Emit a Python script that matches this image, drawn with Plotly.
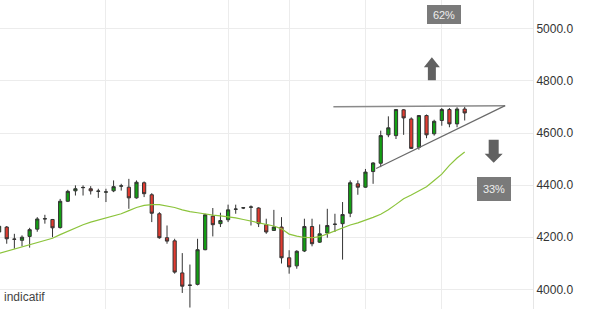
import plotly.graph_objects as go

# session index (trading days)
sessions = list(range(62))

opens = [4220, 4239, 4193, 4188, 4203, 4231, 4270, 4268, 4237, 4338,
         4378, 4390, 4386, 4376, 4373, 4378, 4396, 4392, 4351, 4409,
         4363, 4290, 4198, 4186, 4063, 4015, 4019, 4152, 4281, 4252,
         4267, 4307, 4312, 4315, 4312, 4248, 4226, 4239, 4121, 4090,
         4147, 4241, 4181, 4216, 4249, 4252, 4292, 4405, 4392, 4452,
         4484, 4593, 4590, 4689, 4654, 4545, 4667, 4597, 4648, 4690,
         4635, 4692]
highs = [4246, 4243, 4213, 4207, 4236, 4277, 4286, 4270, 4347, 4382,
         4399, 4399, 4396, 4386, 4386, 4418, 4405, 4424, 4418, 4414,
         4369, 4296, 4245, 4194, 4139, 4095, 4194, 4290, 4312, 4294,
         4325, 4325, 4315, 4322, 4315, 4271, 4305, 4277, 4150, 4150,
         4271, 4271, 4249, 4309, 4290, 4335, 4418, 4418, 4462, 4488,
         4609, 4664, 4692, 4692, 4660, 4669, 4671, 4651, 4696, 4696,
         4699, 4701]
lows = [4214, 4175, 4156, 4165, 4160, 4221, 4252, 4200, 4233, 4335,
        4360, 4360, 4364, 4351, 4335, 4373, 4379, 4309, 4348, 4354,
        4258, 4194, 4175, 4060, 3986, 3930, 4015, 4150, 4203, 4239,
        4258, 4290, 4308, 4245, 4239, 4213, 4224, 4099, 4060, 4079,
        4143, 4165, 4178, 4198, 4220, 4114, 4277, 4363, 4390, 4405,
        4469, 4584, 4577, 4593, 4539, 4536, 4580, 4590, 4628, 4622,
        4622, 4648]
closes = [4242, 4194, 4192, 4200, 4229, 4270, 4271, 4236, 4338, 4376,
          4386, 4391, 4378, 4377, 4374, 4394, 4397, 4351, 4411, 4367,
          4292, 4198, 4185, 4066, 4012, 4016, 4152, 4286, 4248, 4264,
          4305, 4308, 4313, 4316, 4252, 4220, 4239, 4121, 4086, 4146,
          4241, 4175, 4213, 4245, 4250, 4287, 4409, 4392, 4450, 4485,
          4590, 4620, 4690, 4658, 4541, 4667, 4593, 4645, 4690, 4635,
          4692, 4677]
moving_avg = [4138, 4146, 4154, 4162, 4170, 4178, 4186, 4196, 4210, 4223,
              4236, 4248, 4258, 4266, 4272, 4280, 4290, 4302, 4314, 4322,
              4325, 4325, 4320, 4314, 4305, 4298, 4294, 4289, 4285, 4282,
              4279, 4274, 4268, 4262, 4256, 4250, 4243, 4232, 4212, 4204,
              4199, 4198, 4202, 4213, 4224, 4237, 4247, 4255, 4265, 4276,
              4288, 4305, 4326, 4348, 4362, 4378, 4394, 4418, 4442, 4476,
              4504, 4527]

# triangle (resistance / rising support)
resist_x = [43.8, 66.3]
resist_y = [4701, 4705]
support_x = [49.4, 66.3]
support_y = [4464, 4705]

y_ticks = [4000, 4200, 4400, 4600, 4800, 5000]
grid_sessions = [14, 30, 38, 48, 58]

up_label, up_pos = "62%", (58.3, 5055)
down_label, down_pos = "33%", (64.9, 4385)
up_arrow_anchor = (56.7, 4803)
down_arrow_anchor = (64.8, 4486)

fig = go.Figure()
fig.add_trace(go.Candlestick(
    x=sessions, open=opens, high=highs, low=lows, close=closes,
    increasing=dict(fillcolor="#12a012", line=dict(color="#333333", width=1)),
    decreasing=dict(fillcolor="#e23b30", line=dict(color="#333333", width=1)),
    whiskerwidth=0, showlegend=False, hoverinfo="skip",
))
fig.add_trace(go.Scatter(
    x=sessions, y=moving_avg, mode="lines",
    line=dict(color="#8cc43c", width=1.2), showlegend=False, hoverinfo="skip",
))
fig.add_trace(go.Scatter(
    x=resist_x, y=resist_y, mode="lines",
    line=dict(color="#8a8a8a", width=1.5), showlegend=False, hoverinfo="skip",
))
fig.add_trace(go.Scatter(
    x=support_x, y=support_y, mode="lines",
    line=dict(color="#6a6a6a", width=1.2), showlegend=False, hoverinfo="skip",
))

# arrows (pixel-sized paths anchored in data coords)
fig.add_shape(type="path", xref="x", yref="y", xsizemode="pixel", ysizemode="pixel",
              xanchor=up_arrow_anchor[0], yanchor=up_arrow_anchor[1],
              path="M -4,0 L 4,0 L 4,13 L 8,13 L 0,23 L -8,13 L -4,13 Z",
              fillcolor="#616161", line=dict(width=0))
fig.add_shape(type="path", xref="x", yref="y", xsizemode="pixel", ysizemode="pixel",
              xanchor=down_arrow_anchor[0], yanchor=down_arrow_anchor[1],
              path="M 0,0 L 9,9 L 5,9 L 5,23 L -5,23 L -5,9 L -9,9 Z",
              fillcolor="#616161", line=dict(width=0))

for label, pos, h in [(up_label, up_pos, 19), (down_label, down_pos, 24)]:
    fig.add_annotation(x=pos[0], y=pos[1], xref="x", yref="y", text=label,
                       showarrow=False, bgcolor="#7a7a7a", borderpad=0, borderwidth=0,
                       width=34, height=h,
                       font=dict(family="Liberation Sans, Arial", size=11, color="#eeeeee"))

fig.add_annotation(x=0, y=0, xref="paper", yref="paper", xanchor="left", yanchor="bottom",
                   xshift=2, yshift=3, text="indicatif", showarrow=False,
                   font=dict(family="Liberation Sans, Arial", size=12, color="#444444"))

fig.update_layout(
    width=591, height=309,
    margin=dict(l=0, r=58, t=0, b=0),
    paper_bgcolor="white", plot_bgcolor="white",
    boxgap=0.4,
    xaxis=dict(range=[0.118, 69.95], tickvals=grid_sessions, showticklabels=False,
               showgrid=True, gridcolor="#ececec", gridwidth=1, zeroline=False,
               rangeslider=dict(visible=False), ticks=""),
    yaxis=dict(side="right", range=[3924.4, 5110.6], tickvals=y_ticks,
               tickformat=".1f", showgrid=True, gridcolor="#ececec", zeroline=False,
               showline=True, linecolor="#e6e6e6", linewidth=1, ticks="",
               tickfont=dict(family="Liberation Sans, Arial", size=12, color="#333333")),
)

fig.write_html("out.html")
